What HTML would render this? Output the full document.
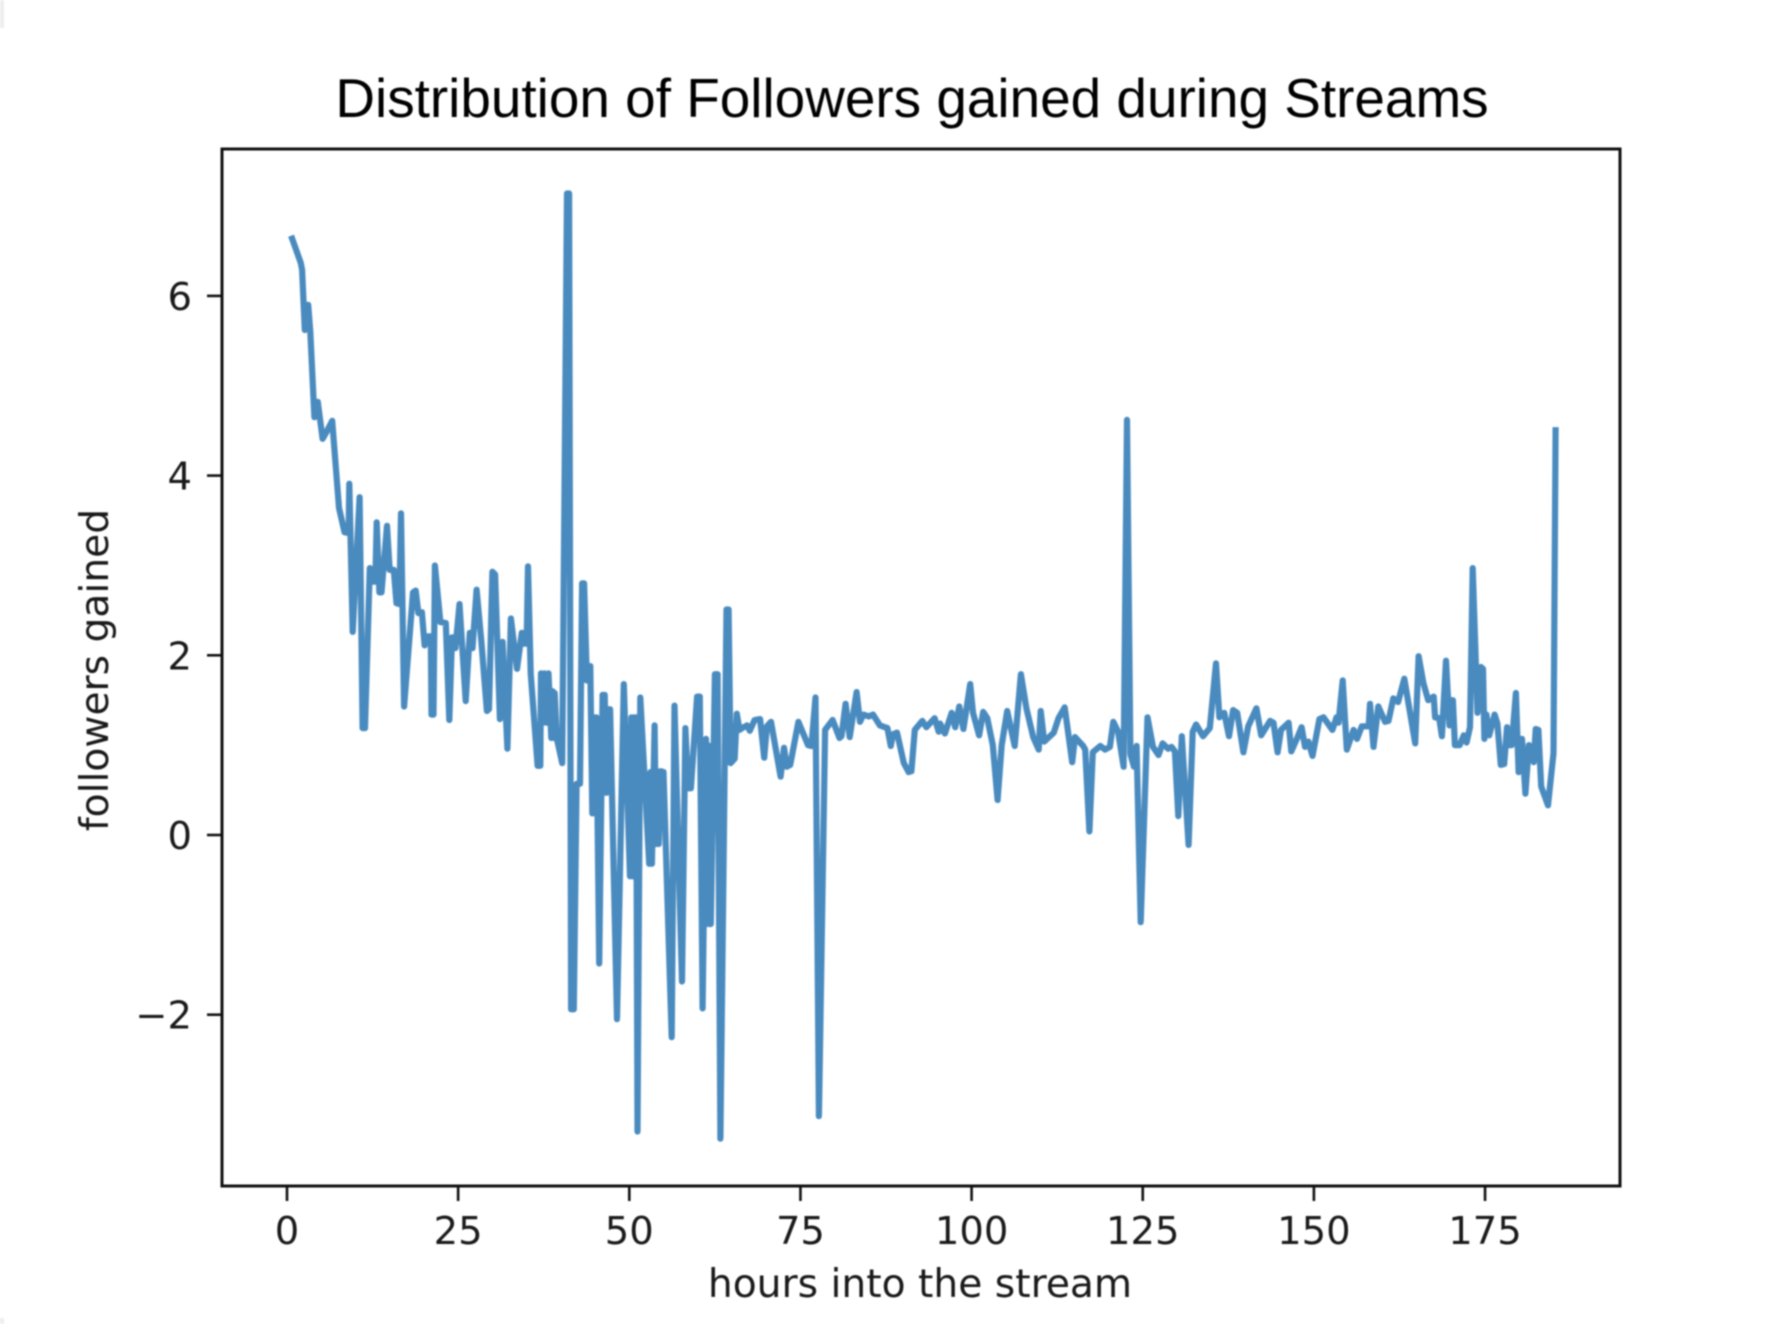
<!DOCTYPE html>
<html lang="en">
<head>
<meta charset="utf-8">
<title>Distribution of Followers gained during Streams</title>
<style>
  html, body { margin: 0; padding: 0; background: #fff; }
  body { width: 1776px; height: 1324px; overflow: hidden; position: relative; }
  svg { display: block; position: absolute; left: 0; top: 0; filter: blur(0.9px); }
  .tick-label { font-family: "DejaVu Sans", sans-serif; font-size: 38.5px; fill: #1a1a1a; }
  .axis-title { font-family: "DejaVu Sans", sans-serif; font-size: 39.2px; fill: #1a1a1a; }
  .chart-title { font-family: "Liberation Sans", Arial, sans-serif; font-size: 54.9px; fill: #000; }
</style>
</head>
<body>
<svg id="chart" width="1776" height="1324" viewBox="0 0 1776 1324" xmlns="http://www.w3.org/2000/svg">
  <rect x="0" y="0" width="1776" height="1324" fill="#ffffff"></rect>
  <rect x="0" y="0" width="4" height="28" fill="#eeeeee"></rect>
  <rect x="0" y="1318" width="4" height="6" fill="#eeeeee"></rect>
  <text class="chart-title" x="912" y="117" text-anchor="middle">Distribution of Followers gained during Streams</text>
  <text class="axis-title" x="920" y="1297" text-anchor="middle">hours into the stream</text>
  <text class="axis-title" x="0" y="0" text-anchor="middle" transform="translate(108 670) rotate(-90)">followers gained</text>
  <g id="ticks"></g>
  <path id="series" fill="none" stroke="#4a8bbf" stroke-width="6.2" stroke-linejoin="round" stroke-linecap="butt"></path>
  <rect x="222" y="149" width="1398" height="1037" fill="none" stroke="#111111" stroke-width="3"></rect>
</svg>
<script>
const hours = [
  0.6,2.0,2.2,2.6,3.1,3.4,4.0,4.5,4.8,5.2,
  5.8,6.6,7.6,8.4,9.0,9.1,9.6,10.6,11.05,11.4,
  12.1,12.5,12.9,13.1,13.5,13.8,14.6,15.0,15.6,16.0,
  16.4,16.65,17.1,18.4,18.8,19.2,19.7,20.1,20.6,21.0,
  21.1,21.4,21.6,22.4,23.2,23.7,24.1,24.6,25.2,26.1,
  26.7,27.1,27.7,28.4,29.2,29.5,30.0,30.4,31.1,31.5,
  32.2,32.7,33.6,34.3,34.6,35.0,35.2,35.6,36.6,37.0,
  37.1,37.4,37.6,37.9,38.2,38.6,38.8,39.0,39.1,39.4,40.2,40.9,
  41.2,41.5,41.9,42.3,42.8,43.1,43.4,43.8,44.3,44.6,
  44.8,45.0,45.2,45.6,46.1,46.3,46.4,46.7,46.9,47.0,47.2,48.2,
  49.2,50.1,50.3,50.5,50.7,50.9,51.0,51.2,51.6,52.9,53.1,53.3,53.7,
  53.9,54.1,54.3,54.6,55.0,56.2,56.6,57.7,58.2,58.6,59.0,59.9,
  60.3,60.7,61.2,61.3,61.5,61.7,61.9,62.5,62.9,63.3,64.2,64.5,
  64.8,65.4,65.7,66.1,66.7,67.2,67.6,68.3,69.1,69.7,
  70.1,70.7,72.1,72.6,73.0,73.5,74.7,76.1,76.6,77.2,
  77.7,78.6,79.7,80.7,81.0,81.6,82.2,83.2,83.7,84.2,
  85.0,85.6,86.6,87.7,88.2,88.5,89.1,90.1,90.8,91.2,
  91.7,92.8,93.4,94.6,95.2,95.4,96.1,97.1,97.6,98.2,
  98.8,99.8,100.2,101.1,101.7,102.3,103.1,103.8,104.4,105.2,106.3,
  107.2,108.0,109.0,109.8,110.1,110.6,112.0,112.7,113.6,114.7,
  115.1,116.3,116.6,117.2,117.7,118.8,119.5,120.2,120.7,121.4,
  122.2,122.7,123.2,123.7,124.1,124.7,125.7,126.5,127.3,127.9,
  128.7,129.2,129.7,130.2,130.7,131.7,132.3,132.8,133.8,134.8,
  135.7,136.2,136.9,137.6,138.2,138.8,139.7,140.4,141.6,142.3,
  143.6,144.1,144.7,145.2,146.3,146.7,147.5,148.2,148.7,149.2,
  149.8,150.8,151.4,152.7,153.3,153.6,154.2,154.8,155.8,156.3,
  157.0,158.0,158.2,158.7,159.4,160.4,160.9,161.6,162.3,163.2,
  164.8,165.3,166.0,166.7,167.5,167.7,168.3,168.7,169.3,169.8,
  170.1,170.3,170.6,171.3,171.9,172.3,172.8,173.2,173.9,174.4,
  174.7,174.9,175.2,175.6,176.4,176.8,177.3,177.8,178.2,178.4,
  178.9,179.5,179.9,180.4,180.9,181.4,182.1,182.4,182.8,183.2,
  184.2,185.0,185.3
];
const followers = [
  6.67,6.37,6.29,5.62,5.9,5.6,4.65,4.82,4.64,4.41,
  4.49,4.61,3.64,3.37,3.36,3.91,2.26,3.76,1.19,1.19,
  2.97,2.82,2.82,3.48,2.70,2.70,3.44,2.95,2.95,2.58,
  2.57,3.58,1.43,2.70,2.72,2.47,2.48,2.11,2.21,2.21,
  1.34,1.34,3.0,2.37,2.36,1.28,2.20,2.08,2.57,1.49,
  2.25,2.08,2.73,2.15,1.38,1.4,2.93,2.9,1.29,2.15,
  0.96,2.41,1.85,2.25,2.13,2.13,2.99,1.80,0.77,0.77,
  1.80,1.25,1.8,1.25,1.8,1.08,1.6,1.08,1.58,1.08,0.8,7.14,
  7.14,-1.94,-1.94,0.57,0.57,2.80,2.80,1.72,1.88,0.24,
  1.31,0.24,1.31,-1.43,1.56,0.47,1.56,0.47,1.4,0.5,1.4,-2.05,
  1.68,-0.46,1.31,-0.46,1.31,-0.46,1.31,-3.30,1.53,-0.32,0.7,-0.32,1.22,
  -0.1,0.71,-0.1,0.71,0.7,-2.25,1.44,-1.63,1.19,0.52,0.52,1.54,
  1.54,-1.93,1.07,-0.99,1.0,-0.99,-0.99,1.79,1.79,-3.38,2.51,2.51,
  0.80,0.85,1.35,1.17,1.2,1.22,1.16,1.28,1.29,0.86,
  1.21,1.26,0.65,0.97,0.76,0.78,1.26,1.0,0.99,1.53,
  -3.13,1.17,1.28,1.08,1.1,1.46,1.09,1.59,1.26,1.34,
  1.32,1.34,1.22,1.19,0.99,1.12,1.14,0.80,0.70,0.71,
  1.17,1.27,1.2,1.30,1.15,1.24,1.13,1.36,1.2,1.43,
  1.18,1.68,1.36,1.11,1.37,1.3,1.0,0.39,1.0,1.38,0.99,
  1.79,1.41,1.09,0.95,1.38,1.04,1.14,1.30,1.42,0.81,
  1.09,0.99,0.95,0.04,0.92,0.99,0.95,0.98,1.26,1.15,
  0.76,4.62,0.90,0.76,0.99,-0.97,1.31,0.98,0.89,1.02,
  0.96,0.98,0.93,0.21,1.10,-0.11,1.15,1.23,1.10,1.19,
  1.91,1.31,1.36,1.10,1.39,1.36,0.92,1.21,1.41,1.11,
  1.27,1.25,0.92,1.17,1.25,0.93,1.07,1.20,0.98,1.04,
  0.88,1.29,1.31,1.17,1.31,1.25,1.72,0.95,1.17,1.07,
  1.21,1.21,1.46,0.98,1.43,1.26,1.27,1.52,1.48,1.74,
  1.02,1.99,1.69,1.50,1.54,1.31,1.3,1.10,1.94,1.22,
  1.50,1.5,1.0,1.0,1.11,1.03,1.2,2.97,1.36,1.87,
  1.85,1.07,1.34,1.11,1.34,1.24,0.78,0.79,1.2,1.0,
  1.0,1.58,0.70,1.07,0.46,1.0,0.81,1.18,1.17,0.54,
  0.33,0.91,4.54
];
const xTickValues = [0, 25, 50, 75, 100, 125, 150, 175];
const xTickLabels = ["0", "25", "50", "75", "100", "125", "150", "175"];
const yTickValues = [-2, 0, 2, 4, 6];
const yTickLabels = ["\u22122", "0", "2", "4", "6"];

function xScale(h) { return 287 + 6.846 * h; }
function yScale(v) { return 835 - 89.85 * v; }

const svgNS = "http://www.w3.org/2000/svg";
const ticks = document.getElementById("ticks");

xTickValues.forEach(function (value, i) {
  const x = xScale(value);
  const line = document.createElementNS(svgNS, "line");
  line.setAttribute("x1", x);
  line.setAttribute("x2", x);
  line.setAttribute("y1", 1186);
  line.setAttribute("y2", 1201);
  line.setAttribute("stroke", "#111111");
  line.setAttribute("stroke-width", 2.6);
  
  
  ticks.appendChild(line);
  const label = document.createElementNS(svgNS, "text");
  label.setAttribute("x", x);
  label.setAttribute("y", 1244);
  label.setAttribute("text-anchor", "middle");
  label.setAttribute("class", "tick-label");
  label.textContent = xTickLabels[i];
  
  
  ticks.appendChild(label);
});

yTickValues.forEach(function (value, i) {
  const y = yScale(value);
  const line = document.createElementNS(svgNS, "line");
  line.setAttribute("x1", 207);
  line.setAttribute("x2", 222);
  line.setAttribute("y1", y);
  line.setAttribute("y2", y);
  line.setAttribute("stroke", "#111111");
  line.setAttribute("stroke-width", 2.6);
  
  
  ticks.appendChild(line);
  const label = document.createElementNS(svgNS, "text");
  label.setAttribute("x", 192);
  label.setAttribute("y", y + 14);
  label.setAttribute("text-anchor", "end");
  label.setAttribute("class", "tick-label");
  label.textContent = yTickLabels[i];
  
  
  ticks.appendChild(label);
});

let d = "";
hours.forEach(function (h, i) {
  d += (i === 0 ? "M" : "L") + xScale(h).toFixed(1) + " " + yScale(followers[i]).toFixed(1);
});
document.getElementById("series").setAttribute("d", d);
</script>
</body>
</html>
